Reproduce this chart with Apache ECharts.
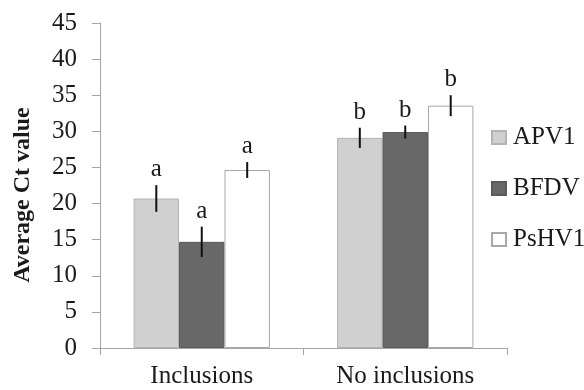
<!DOCTYPE html>
<html>
<head>
<meta charset="utf-8">
<script src="https://cdn.jsdelivr.net/npm/echarts@6/dist/echarts.min.js"></script>
<style>html,body{margin:0;padding:0;background:#fff;}#c{width:584px;height:390px;}</style>
</head>
<body>
<div id="c"></div>
<script>
var categories = ['Inclusions', 'No inclusions'];
var seriesNames = ['APV1', 'BFDV', 'PsHV1'];
var apv1 = [20.7, 29.1];
var bfdv = [14.7, 29.9];
var pshv1 = [24.65, 33.55];
var apv1Err = [1.85, 1.4];
var bfdvErr = [2.1, 0.9];
var pshv1Err = [1.1, 1.45];
var apv1Letters = ['a', 'b'];
var bfdvLetters = ['a', 'b'];
var pshv1Letters = ['a', 'b'];
var yTicks = [0, 45, 5];
var yTitle = 'Average Ct value';

var FONT = "'Liberation Serif', 'Times New Roman', serif";
var fills = ['#d0d0d0', '#686868', '#ffffff'];
var borders = ['#b4b4b4', '#5a5a5a', '#a8a8a8'];
var values = [apv1, bfdv, pshv1];
var errs = [apv1Err, bfdvErr, pshv1Err];
var letters = [apv1Letters, bfdvLetters, pshv1Letters];
var GAP = 0.33;

var chart = echarts.init(document.getElementById('c'));
var series = [];
seriesNames.forEach(function (n, i) {
  series.push({
    name: n, type: 'bar', data: values[i], barGap: '0%', barCategoryGap: (GAP * 100) + '%',
    itemStyle: { color: fills[i], borderColor: borders[i], borderWidth: 1 },
    animation: false
  });
});
seriesNames.forEach(function (n, i) {
  series.push({
    name: n + '-err', type: 'custom', animation: false, z: 5,
    data: values[i].map(function (v, k) { return [k, v, errs[i][k]]; }),
    encode: { x: 0, y: 1 },
    renderItem: function (params, api) {
      var k = api.value(0), v = api.value(1), e = api.value(2);
      var band = api.size([1, 0])[0];
      var bw = band * (1 - GAP) / 3;
      var c = api.coord([k, v]);
      var x = c[0] + (i - 1) * bw;
      var top = api.coord([k, v + e])[1];
      var bot = api.coord([k, v - e])[1];
      return {
        type: 'group',
        children: [
          { type: 'line', shape: { x1: x, y1: top, x2: x, y2: bot }, style: { stroke: '#111', lineWidth: 2 } },
          { type: 'text', style: { x: x, y: top - 3, text: letters[i][params.dataIndex], fill: '#1a1a1a', font: '25px ' + FONT, textAlign: 'center', textVerticalAlign: 'bottom' } }
        ]
      };
    }
  });
});

chart.setOption({
  animation: false,
  grid: { left: 100, right: 77, top: 23, bottom: 42 },
  graphic: [{
    type: 'text', x: 23, y: 195, rotation: Math.PI / 2,
    style: { text: yTitle, font: 'bold 24px ' + FONT, fill: '#1a1a1a', textAlign: 'center', textVerticalAlign: 'middle' }
  }],
  legend: {
    data: seriesNames, orient: 'vertical', left: 491, top: 125, padding: 0,
    icon: 'rect', itemWidth: 14, itemHeight: 13, itemGap: 26,
    textStyle: { fontFamily: FONT, fontSize: 25, color: '#1a1a1a', lineHeight: 25, padding: [0, 0, 0, 2] }
  },
  xAxis: {
    type: 'category', data: categories,
    axisLine: { lineStyle: { color: '#a6a6a6', width: 1 } },
    axisTick: { show: true, length: 7, lineStyle: { color: '#a6a6a6' } },
    axisLabel: { fontFamily: FONT, fontSize: 25, color: '#1a1a1a', margin: 16 }
  },
  yAxis: {
    type: 'value', min: yTicks[0], max: yTicks[1], interval: yTicks[2],
    axisLine: { show: true, lineStyle: { color: '#a6a6a6', width: 1 } },
    axisTick: { show: true, length: 8, lineStyle: { color: '#a6a6a6' } },
    axisLabel: { fontFamily: FONT, fontSize: 25, color: '#1a1a1a', margin: 23 },
    splitLine: { show: false }
  },
  series: series
});
</script>
</body>
</html>
